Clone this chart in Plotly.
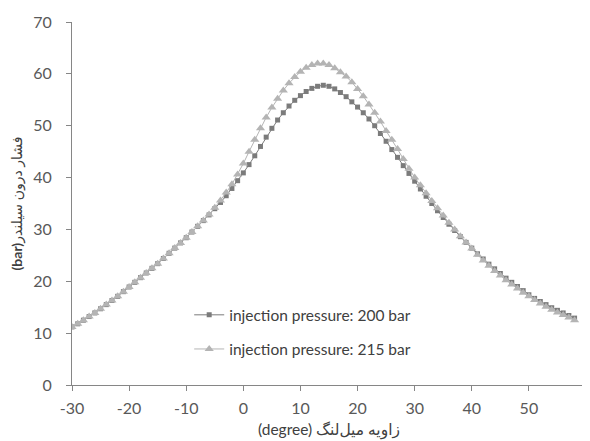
import plotly.graph_objects as go

crank_angle = list(range(-30, 59))

p200 = [11.2, 11.8, 12.5, 13.2, 13.9, 14.7, 15.5, 16.3, 17.1, 18.0,
        18.9, 19.8, 20.7, 21.6, 22.5, 23.4, 24.4, 25.4, 26.4, 27.4,
        28.4, 29.5, 30.6, 31.7, 32.8, 34.0, 35.2, 36.5, 37.9, 39.4,
        40.9, 42.5, 44.2, 46.0, 47.8, 49.5, 51.1, 52.5, 53.8, 54.9,
        55.8, 56.6, 57.2, 57.6, 57.8, 57.6, 57.1, 56.4, 55.6, 54.6,
        53.6, 52.5, 51.3, 50.0, 48.5, 47.0, 45.4, 43.9, 42.3, 40.8,
        39.3, 37.8, 36.4, 35.0, 33.6, 32.3, 31.0, 29.8, 28.6, 27.5,
        26.4, 25.3, 24.3, 23.3, 22.4, 21.5, 20.6, 19.8, 19.0, 18.2,
        17.4, 16.7, 16.1, 15.5, 14.9, 14.4, 13.9, 13.4, 12.9]

p215 = [11.2, 11.8, 12.5, 13.2, 13.9, 14.7, 15.5, 16.3, 17.1, 18.0,
        18.9, 19.8, 20.7, 21.6, 22.5, 23.4, 24.4, 25.4, 26.4, 27.4,
        28.4, 29.5, 30.6, 31.7, 32.9, 34.2, 35.6, 37.1, 38.7, 40.6,
        42.7, 45.0, 47.3, 49.5, 51.6, 53.5, 55.2, 56.8, 58.2, 59.4,
        60.4, 61.2, 61.7, 62.0, 62.0, 61.7, 61.1, 60.3, 59.5, 58.4,
        57.1, 55.7, 54.1, 52.5, 50.8, 49.0, 47.3, 45.5, 43.6, 41.7,
        40.0, 38.5, 37.0, 35.5, 34.1, 32.7, 31.3, 30.0, 28.7, 27.5,
        26.3, 25.1, 24.0, 23.0, 22.0, 21.1, 20.2, 19.4, 18.6, 17.8,
        17.1, 16.4, 15.7, 15.1, 14.5, 14.0, 13.5, 13.0, 12.5]

series_names = ["injection pressure: 200 bar", "injection pressure: 215 bar"]

x_ticks = [-30, -20, -10, 0, 10, 20, 30, 40, 50, 60]
x_tick_text = ["-30", "-20", "-10", "0", "10", "20", "30", "40", "50", ""]
y_ticks = [0, 10, 20, 30, 40, 50, 60, 70]

FONT = "Lato, 'DejaVu Sans', sans-serif"
TXT = "#595959"
AX = "#868686"

fig = go.Figure()
fig.add_trace(go.Scatter(
    x=crank_angle, y=p200, name=series_names[0], mode="lines+markers",
    legendgroup="a",
    line=dict(color="#7b7b7b", width=1),
    marker=dict(symbol="square", size=5, color="#7b7b7b"),
))
fig.add_trace(go.Scatter(
    x=crank_angle, y=p215, name=series_names[1], mode="lines+markers",
    legendgroup="b",
    line=dict(color="#b4b4b4", width=1),
    marker=dict(symbol="triangle-up", size=8, color="#b4b4b4"),
))

# page body has an 8px default margin, so the figure is 8px smaller and margins shifted
fig.update_layout(
    width=582, height=433,
    margin=dict(l=64, r=4, t=11, b=56),
    paper_bgcolor="white", plot_bgcolor="white",
    font=dict(family=FONT, color=TXT, size=15),
    showlegend=True,
    legend=dict(x=0.228, y=0.239, xanchor="left", yanchor="top",
                bgcolor="rgba(0,0,0,0)", font=dict(size=15.5, color="#404040"),
                tracegroupgap=11),
    xaxis=dict(range=[-30, 60], tickmode="array", tickvals=x_ticks,
               ticktext=x_tick_text, showgrid=False, zeroline=False,
               showline=True, linecolor=AX, linewidth=1,
               ticks="outside", ticklen=5, tickcolor=AX,
               ticklabelstandoff=4,
               tickfont=dict(size=16, color=TXT),
               title=dict(text="(degree) زاویه میل\u200cلنگ", standoff=7,
                          font=dict(size=15.5, color="#404040"))),
    yaxis=dict(range=[0, 70], tickmode="array", tickvals=y_ticks,
               showgrid=False, zeroline=False,
               showline=True, linecolor=AX, linewidth=1,
               ticks="outside", ticklen=5, tickcolor=AX,
               ticklabelstandoff=11,
               tickfont=dict(size=16, color=TXT),
               title=dict(text="<b>(bar)</b>فشار درون سیلندر", standoff=10,
                          font=dict(size=14, color="#404040"))),
)

fig.write_html("out.html")
